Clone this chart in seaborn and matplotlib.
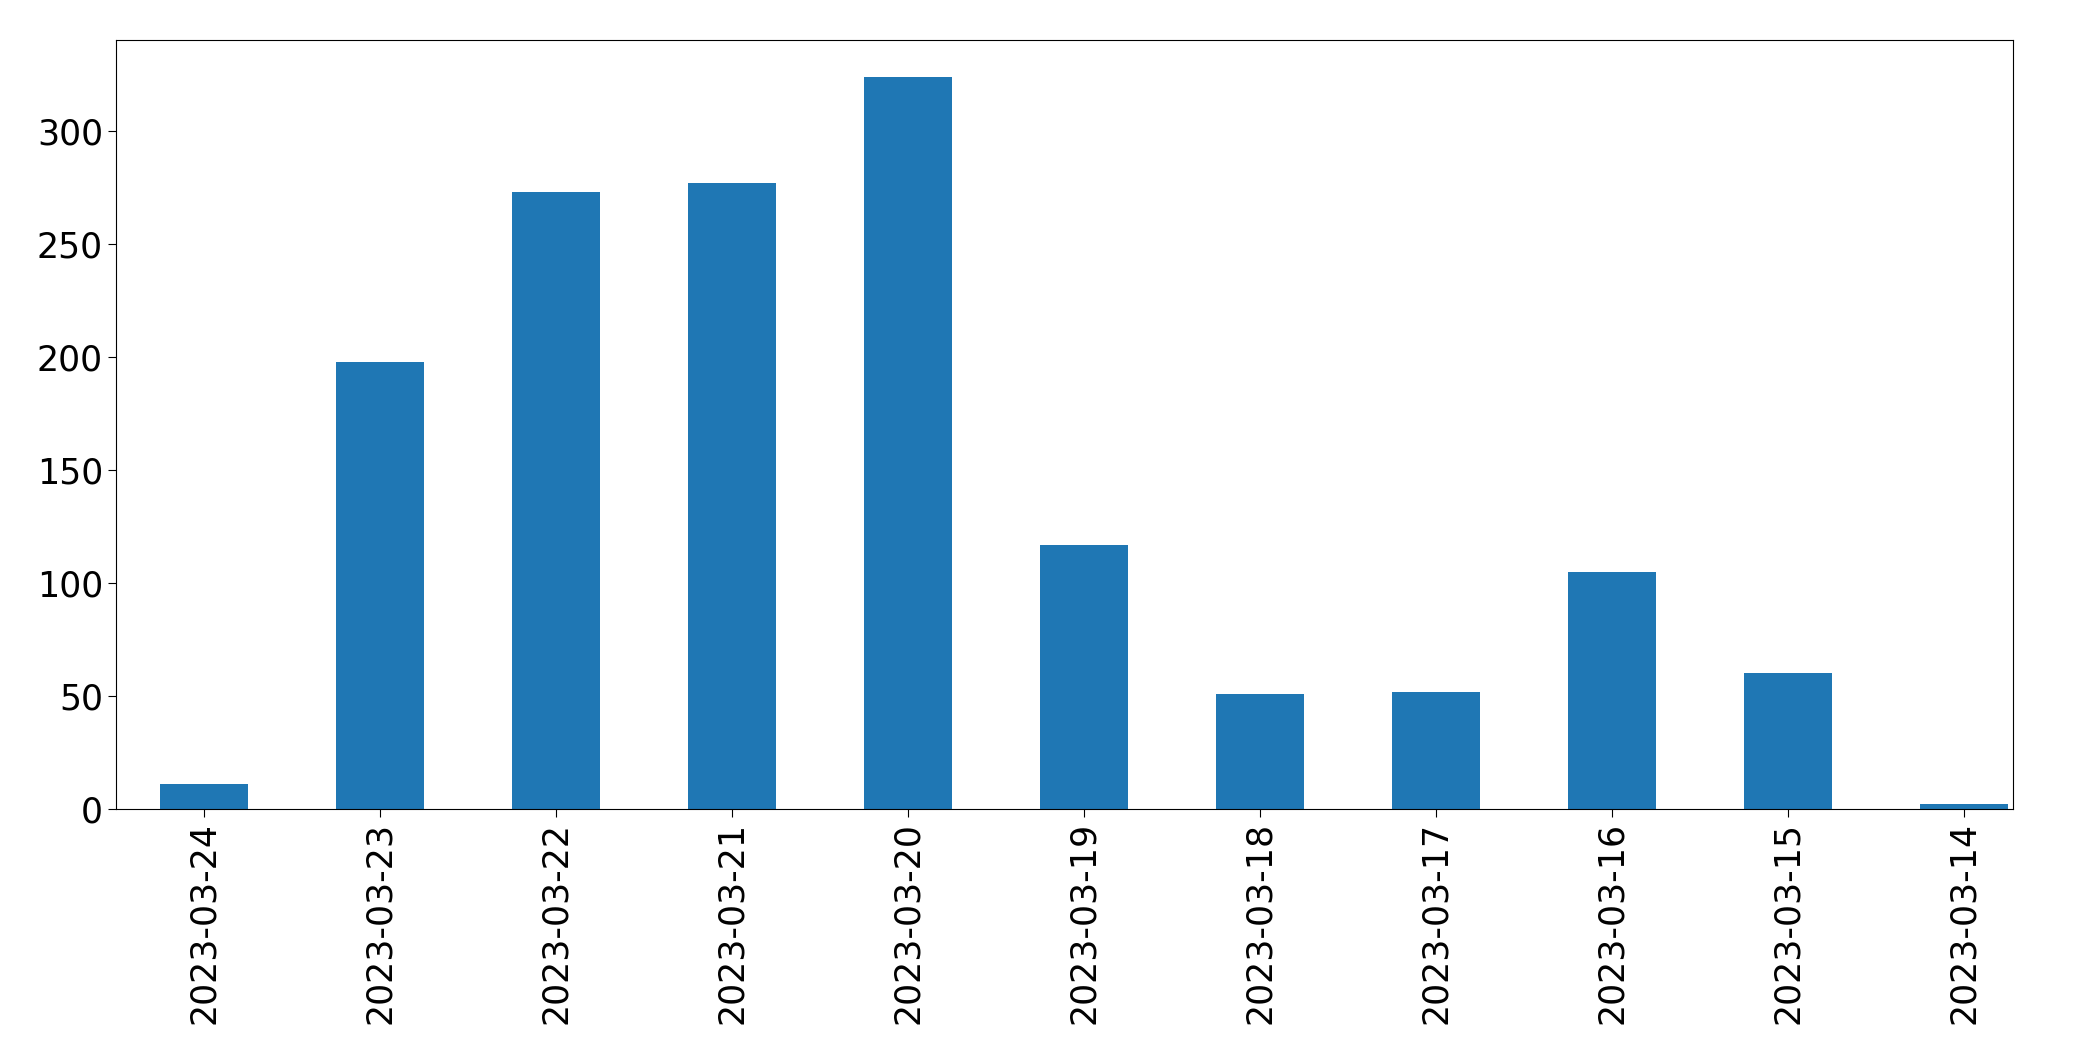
import matplotlib
matplotlib.use("Agg")
import matplotlib.pyplot as plt
import seaborn as sns
import pandas as pd

# ── Data ──────────────────────────────────────────────────────────────────────
dates  = ["2023-03-24", "2023-03-23", "2023-03-22", "2023-03-21", "2023-03-20",
          "2023-03-19", "2023-03-18", "2023-03-17", "2023-03-16", "2023-03-15",
          "2023-03-14"]
counts = [11, 198, 273, 277, 324, 117, 51, 52, 105, 60, 2]

df = pd.DataFrame({"date": dates, "count": counts})

fig, ax = plt.subplots(figsize=(20.93, 10.61), dpi=100)
sns.barplot(data=df, x="date", y="count", order=dates, color="#1f77b4",
            saturation=1, width=0.5, ax=ax)

ax.set_xlabel("")
ax.set_ylabel("")
ax.set_xlim(-0.5, len(dates) - 0.72)
ax.tick_params(axis="both", labelsize=25, length=6)
ax.tick_params(axis="x", rotation=90)

plt.subplots_adjust(left=0.0555, right=0.962, top=0.962, bottom=0.2375)
plt.savefig("out.png", dpi=100)
